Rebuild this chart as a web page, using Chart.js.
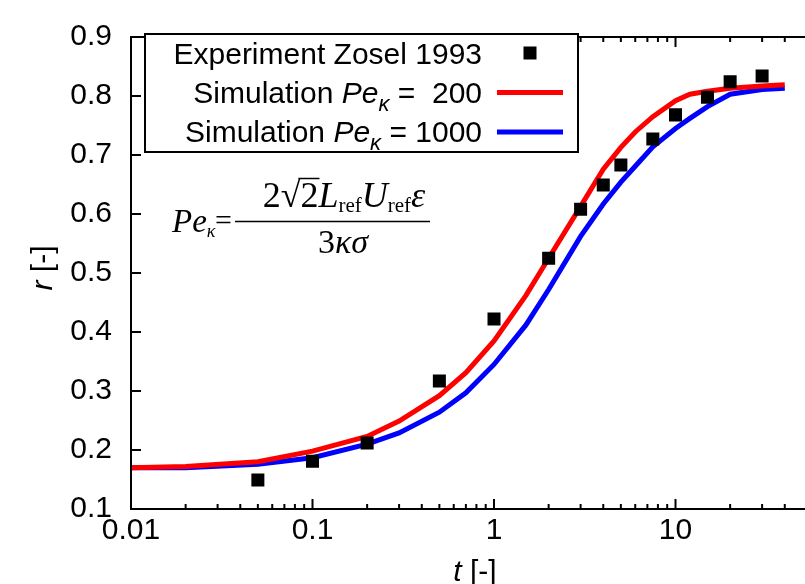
<!DOCTYPE html>
<html>
<head>
<meta charset="utf-8">
<script src="https://cdn.jsdelivr.net/npm/chart.js@4/dist/chart.umd.min.js"></script>
<style>
  html, body { margin: 0; padding: 0; background: #fff; }
  canvas { display: block; }
</style>
</head>
<body>
<canvas id="myChart" width="805" height="584"></canvas>
<script>
// experiment (Zosel 1993)
const tExp = [0.05, 0.1, 0.2, 0.5, 1, 2, 3, 4, 5, 7.5, 10, 15, 20, 30];
const rExp = [0.149, 0.181, 0.212, 0.317, 0.422, 0.525, 0.608, 0.649, 0.683, 0.727, 0.768, 0.798, 0.824, 0.834];

// simulations
const tSim = [0.01, 0.02, 0.05, 0.1, 0.2, 0.3, 0.5, 0.7, 1, 1.5, 2, 3, 4, 5, 6, 7.5, 10, 12, 15, 20, 30, 40];
const rPe200 = [0.170, 0.172, 0.180, 0.198, 0.223, 0.249, 0.292, 0.331, 0.385, 0.462, 0.525, 0.613, 0.676, 0.713, 0.739, 0.765, 0.792, 0.803, 0.808, 0.813, 0.817, 0.819];
const rPe1000 = [0.170, 0.170, 0.176, 0.187, 0.210, 0.229, 0.264, 0.297, 0.345, 0.412, 0.472, 0.562, 0.617, 0.654, 0.681, 0.714, 0.745, 0.762, 0.782, 0.803, 0.811, 0.813];

const xTickLabels = [0.01, 0.1, 1, 10];
const yTickLabels = [0.1, 0.2, 0.3, 0.4, 0.5, 0.6, 0.7, 0.8, 0.9];

const SANS = '"Liberation Sans", Arial, sans-serif';
const SERIF = '"Liberation Serif", "Times New Roman", serif';

function pts(xs, ys) { return xs.map((x, i) => ({ x: x, y: ys[i] })); }

function drawRich(ctx, parts, x, y, align) {
  let w = 0;
  parts.forEach(p => { ctx.font = p.font; w += ctx.measureText(p.text).width; });
  let cx = align === 'right' ? x - w : align === 'center' ? x - w / 2 : x;
  const pos = [];
  parts.forEach(p => {
    ctx.font = p.font;
    ctx.fillText(p.text, cx, y + (p.dy || 0));
    const pw = ctx.measureText(p.text).width;
    pos.push([cx, cx + pw]);
    cx += pw;
  });
  return pos;
}

const decorations = {
  id: 'decorations',
  afterDatasetsDraw(chart) {
    const { ctx, chartArea: a, scales: { x, y } } = chart;
    ctx.save();
    ctx.strokeStyle = '#000';
    ctx.fillStyle = '#000';
    ctx.lineWidth = 2;

    // frame (right side is cut off in the original)
    ctx.beginPath();
    ctx.moveTo(a.right + 15, a.top);
    ctx.lineTo(a.left, a.top);
    ctx.lineTo(a.left, a.bottom);
    ctx.lineTo(a.right + 15, a.bottom);
    ctx.stroke();

    // inward ticks
    ctx.beginPath();
    yTickLabels.forEach(v => {
      const py = y.getPixelForValue(v);
      ctx.moveTo(a.left, py); ctx.lineTo(a.left + 10, py);
    });
    xTickLabels.forEach(d => {
      for (let m = 1; m <= 9; m++) {
        const v = d * m;
        if (v > x.max) break;
        const px = x.getPixelForValue(v);
        const len = m === 1 ? 10 : 5;
        ctx.moveTo(px, a.bottom); ctx.lineTo(px, a.bottom - len);
        ctx.moveTo(px, a.top); ctx.lineTo(px, a.top + len);
      }
    });
    ctx.stroke();

    // axis titles
    ctx.textBaseline = 'alphabetic';
    drawRich(ctx, [
      { text: 't', font: 'italic 30px ' + SANS },
      { text: ' [-]', font: '30px ' + SANS }
    ], 475, 581, 'center');
    ctx.save();
    ctx.translate(52, 268);
    ctx.rotate(-Math.PI / 2);
    drawRich(ctx, [
      { text: 'r', font: 'italic 30px ' + SANS },
      { text: ' [-]', font: '30px ' + SANS }
    ], 0, 0, 'center');
    ctx.restore();

    // legend
    ctx.fillStyle = '#fff';
    ctx.fillRect(145, 34, 433, 118);
    ctx.strokeRect(145, 34, 433, 118);
    ctx.fillStyle = '#000';
    const rows = [
      [{ text: 'Experiment Zosel 1993', font: '30px ' + SANS }],
      [{ text: 'Simulation ', font: '30px ' + SANS },
       { text: 'Pe', font: 'italic 30px ' + SANS },
       { text: '\u03BA', font: 'italic 22px ' + SANS, dy: 8 },
       { text: ' =  200', font: '30px ' + SANS }],
      [{ text: 'Simulation ', font: '30px ' + SANS },
       { text: 'Pe', font: 'italic 30px ' + SANS },
       { text: '\u03BA', font: 'italic 22px ' + SANS, dy: 8 },
       { text: ' = 1000', font: '30px ' + SANS }]
    ];
    const baselines = [64, 103, 142];
    rows.forEach((r, i) => drawRich(ctx, r, 482, baselines[i], 'right'));
    // legend symbols
    ctx.fillRect(530 - 6.5, 53 - 6.5, 13, 13);
    ctx.lineWidth = 5;
    ctx.strokeStyle = '#ff0000';
    ctx.beginPath(); ctx.moveTo(497, 92.5); ctx.lineTo(563, 92.5); ctx.stroke();
    ctx.strokeStyle = '#0000ff';
    ctx.beginPath(); ctx.moveTo(497, 132); ctx.lineTo(563, 132); ctx.stroke();

    // formula
    ctx.fillStyle = '#000';
    ctx.strokeStyle = '#000';
    drawRich(ctx, [
      { text: 'Pe', font: 'italic 33px ' + SERIF },
      { text: '\u03BA', font: 'italic 18px ' + SERIF, dy: 5 }
    ], 172, 232, 'left');
    ctx.font = '30px ' + SERIF;
    ctx.fillText('=', 215, 230);
    ctx.lineWidth = 1.5;
    ctx.beginPath(); ctx.moveTo(235, 221.5); ctx.lineTo(430, 221.5); ctx.stroke();
    const num = drawRich(ctx, [
      { text: '2', font: '36px ' + SERIF },
      { text: '\u221A', font: '36px ' + SERIF },
      { text: '2', font: '36px ' + SERIF },
      { text: 'L', font: 'italic 36px ' + SERIF },
      { text: 'ref', font: '21px ' + SERIF, dy: 5 },
      { text: 'U', font: 'italic 36px ' + SERIF },
      { text: 'ref', font: '21px ' + SERIF, dy: 5 },
      { text: '\u03B5', font: 'italic 36px ' + SERIF }
    ], 344, 207, 'center');
    ctx.lineWidth = 1.5;
    ctx.beginPath(); ctx.moveTo(num[1][1] - 2, 178.5); ctx.lineTo(num[2][1] + 1, 178.5); ctx.stroke();
    drawRich(ctx, [
      { text: '3', font: '34px ' + SERIF },
      { text: '\u03BA\u03C3', font: 'italic 34px ' + SERIF }
    ], 343, 253, 'center');

    ctx.restore();
  }
};

const ctx = document.getElementById('myChart');

new Chart(ctx, {
  type: 'line',
  data: {
    datasets: [
      {
        label: 'Experiment Zosel 1993',
        data: pts(tExp, rExp),
        showLine: false,
        pointStyle: 'rect',
        pointRadius: 9.2,
        pointBackgroundColor: '#000',
        pointBorderWidth: 0,
        borderColor: '#000',
      },
      {
        label: 'Simulation Pe = 200',
        data: pts(tSim, rPe200),
        borderColor: '#ff0000',
        borderWidth: 5,
        pointRadius: 0,
        tension: 0,
      },
      {
        label: 'Simulation Pe = 1000',
        data: pts(tSim, rPe1000),
        borderColor: '#0000ff',
        borderWidth: 5,
        pointRadius: 0,
        tension: 0,
      }
    ]
  },
  options: {
    responsive: false,
    animation: false,
    events: [],
    layout: { padding: { top: 23, right: 0, left: 0, bottom: 0 } },
    plugins: {
      legend: { display: false },
      tooltip: { enabled: false },
    },
    scales: {
      x: {
        type: 'logarithmic',
        min: 0.01,
        max: 46,
        grid: { display: false, drawTicks: false },
        border: { display: false },
        afterBuildTicks: scale => { scale.ticks = xTickLabels.map(v => ({ value: v })); },
        afterFit: scale => { scale.height = 75; },
        ticks: {
          autoSkip: false,
          maxRotation: 0,
          padding: 4,
          color: '#000',
          font: { family: SANS, size: 30 },
          callback: v => String(v),
        },
      },
      y: {
        min: 0.1,
        max: 0.9,
        grid: { display: false, drawTicks: false },
        border: { display: false },
        afterBuildTicks: scale => { scale.ticks = yTickLabels.map(v => ({ value: v })); },
        afterFit: scale => { scale.width = 131; },
        ticks: {
          padding: 19,
          color: '#000',
          font: { family: SANS, size: 30 },
          callback: v => Number(v).toFixed(1),
        },
      }
    }
  },
  plugins: [decorations]
});
</script>
</body>
</html>
